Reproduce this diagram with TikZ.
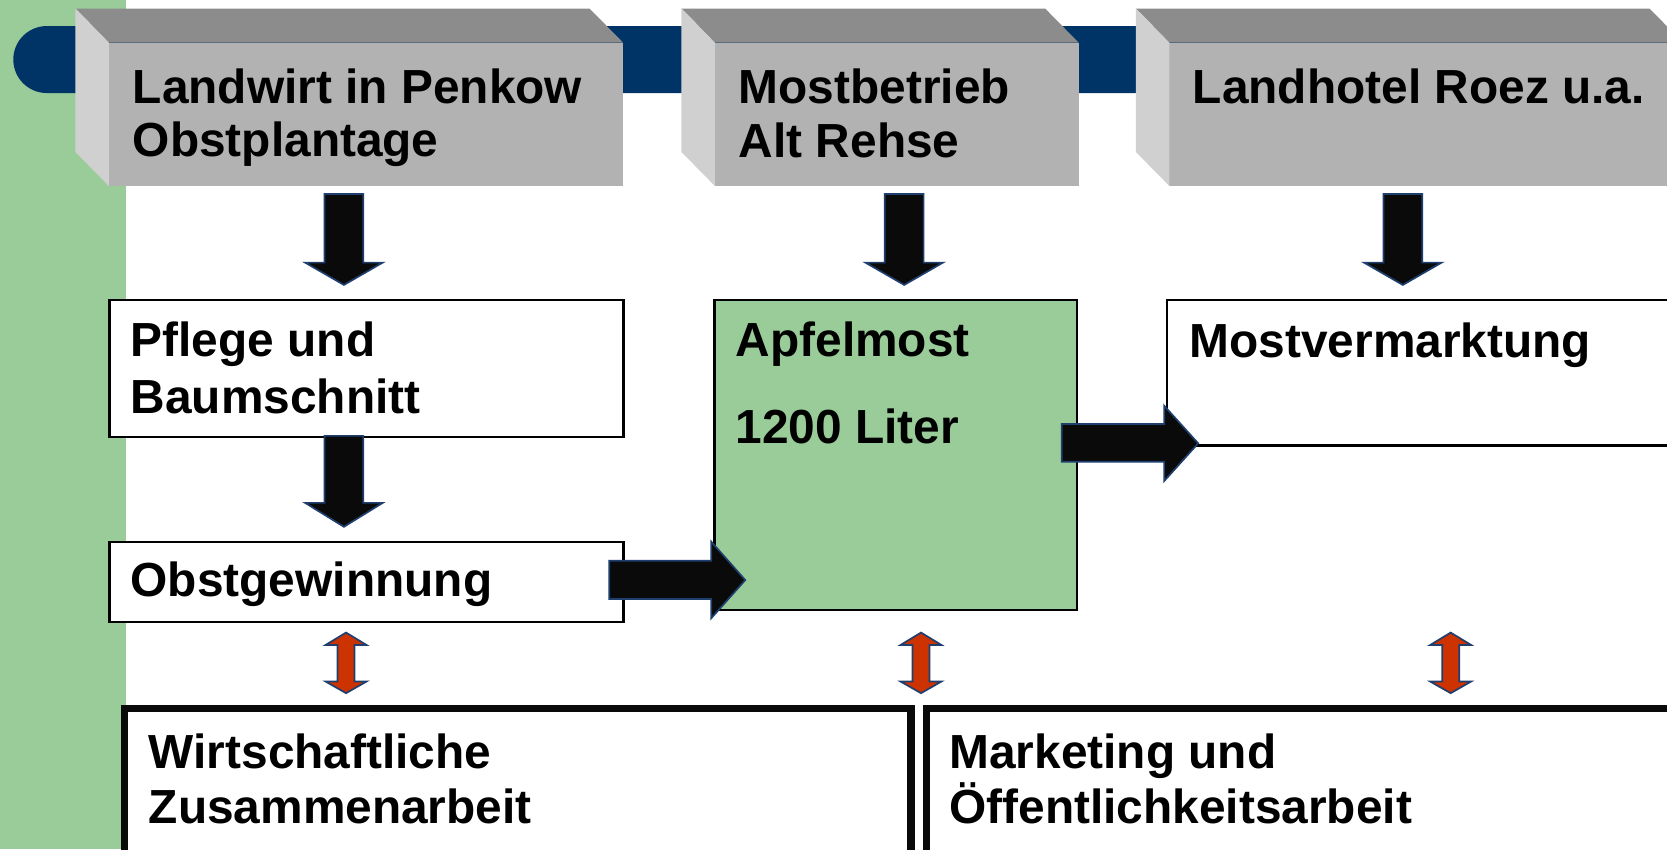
\documentclass[tikz,border=0pt]{standalone}
\usepackage{fontspec}
\setmainfont{Liberation Sans}
\newcommand{\twol}[3]{\vtop{\baselineskip=#3\relax\hbox{#1}\hbox{#2}}}
\definecolor{greenbg}{HTML}{99CC99}
\definecolor{barblue}{HTML}{003366}
\definecolor{topgray}{HTML}{8C8C8C}
\definecolor{frontgray}{HTML}{B2B2B2}
\definecolor{sidegray}{HTML}{D0D0D0}
\definecolor{arrowfill}{HTML}{0A0A0A}
\definecolor{arrowline}{HTML}{1F3F6F}
\definecolor{redfill}{HTML}{CC3300}
\begin{document}
\begin{tikzpicture}[x=0.5pt,y=-0.5pt,
  front/.style={rectangle,fill=frontgray,inner sep=0pt,outer sep=0pt,anchor=north west},
  topface/.style={fill=topgray},
  sideface/.style={fill=sidegray},
  plainbox/.style={rectangle,draw=black,line width=1pt,fill=white,inner sep=0pt,outer sep=0pt,anchor=north west},
  greenbox/.style={plainbox,fill=greenbg},
  thickbox/.style={rectangle,draw=arrowfill,line width=3.6pt,fill=white,inner sep=0pt,outer sep=0pt,anchor=north west},
  lbl/.style={inner sep=0pt,outer sep=0pt,anchor=base west,font=\fontsize{22.5}{27}\selectfont\bfseries},
  blockarrow/.style={fill=arrowfill,draw=arrowline,line width=0.8pt,line join=miter},
  dblarrow/.style={fill=redfill,draw=arrowline,line width=0.8pt,line join=miter}]
\useasboundingbox (0,0) rectangle (1568,799);
\clip (0,0) rectangle (1568,799);
% background
\fill[white] (0,0) rectangle (1568,799);
\fill[greenbg] (0,0) rectangle (118.5,799);
\fill[barblue,rounded corners=15.75pt] (12.5,24.5) rectangle (1640,87.5);

% 3D header boxes
\node[front,minimum width=241.75pt,minimum height=67.5pt] (h1) at (102.5,40) {};
\fill[topface] (h1.north west) -- (h1.north east) -- ++(-31.5,-32) -- (71,8) -- cycle;
\fill[sideface] (h1.north west) -- (71,8) -- (71,143) -- (h1.south west) -- cycle;

\node[front,minimum width=171pt,minimum height=67.5pt] (h2) at (672.5,40) {};
\fill[topface] (h2.north west) -- (h2.north east) -- ++(-31.5,-32) -- (641,8) -- cycle;
\fill[sideface] (h2.north west) -- (641,8) -- (641,143) -- (h2.south west) -- cycle;

\node[front,minimum width=241.5pt,minimum height=67.5pt] (h3) at (1100,40) {};
\fill[topface] (h3.north west) -- (h3.north east) -- ++(-31.5,-32) -- (1068.5,8) -- cycle;
\fill[sideface] (h3.north west) -- (1068.5,8) -- (1068.5,143) -- (h3.south west) -- cycle;

\node[lbl] (t1) at (125,97) {\twol{Landwirt in Penkow}{Obstplantage}{25.25pt}};
\node[lbl] (t2) at (695,97) {\twol{Mostbetrieb}{Alt Rehse}{25.5pt}};
\node[lbl] (t3) at (1122,97) {Landhotel Roez u.a.};

% middle boxes
\node[plainbox,minimum width=241.75pt,minimum height=64.5pt] (pflege) at (103,282) {};
\node[plainbox,minimum width=241.75pt,minimum height=37.75pt] (obst) at (103,509.5) {};
\node[greenbox,minimum width=170.5pt,minimum height=146pt] (apfel) at (672,282) {};
\node[plainbox,minimum width=260pt,minimum height=68.5pt] (verm) at (1098,282) {};

\node[lbl] (tpflege) at (123,335.5) {\twol{Pflege und}{Baumschnitt}{26.6pt}};
\node[lbl] (tobst) at (123,561) {Obstgewinnung};
\node[lbl] (tapfel) at (692,335.5) {\twol{Apfelmost}{1200 Liter}{40.75pt}};
\node[lbl] (tverm) at (1119,336) {Mostvermarktung};

% bottom boxes
\node[thickbox,minimum width=370pt,minimum height=68.25pt] (wirt) at (117,666.5) {};
\node[thickbox,minimum width=370pt,minimum height=68.25pt] (mark) at (871.5,666.5) {};
\node[lbl] (twirt) at (140,723) {\twol{Wirtschaftliche}{Zusammenarbeit}{26pt}};
\node[lbl] (tmark) at (893,723) {\twol{Marketing und}{Öffentlichkeitsarbeit}{26pt}};

% down block arrows
\foreach \cx/\ya/\yb/\yc in {323.5/182.5/247/268, 323.5/410/473/495.5, 850.5/182.5/247/268, 1319.5/182.5/247/268}{
  \draw[blockarrow] (\cx-18.25,\ya) -- (\cx+18.25,\ya) -- (\cx+18.25,\yb) -- (\cx+36.5,\yb)
    -- (\cx,\yc) -- (\cx-36.5,\yb) -- (\cx-18.25,\yb) -- cycle;
}
% right block arrows
\draw[blockarrow] (573,527.4) -- (669,527.4) -- (669,509.5) -- (701,545.6) -- (669,581.5) -- (669,563.5) -- (573,563.5) -- cycle;
\draw[blockarrow] (998.6,398.9) -- (1095,398.9) -- (1095,381.6) -- (1127,417) -- (1095,452.5) -- (1095,434.3) -- (998.6,434.3) -- cycle;

% red double arrows
\foreach \cx in {325.5, 866.3, 1364.5}{
  \draw[dblarrow] (\cx,595) -- (\cx+19.3,606.7) -- (\cx+8,606.7) -- (\cx+8,641) -- (\cx+19.3,641)
    -- (\cx,652) -- (\cx-19.3,641) -- (\cx-8,641) -- (\cx-8,606.7) -- (\cx-19.3,606.7) -- cycle;
}
\end{tikzpicture}
\end{document}
